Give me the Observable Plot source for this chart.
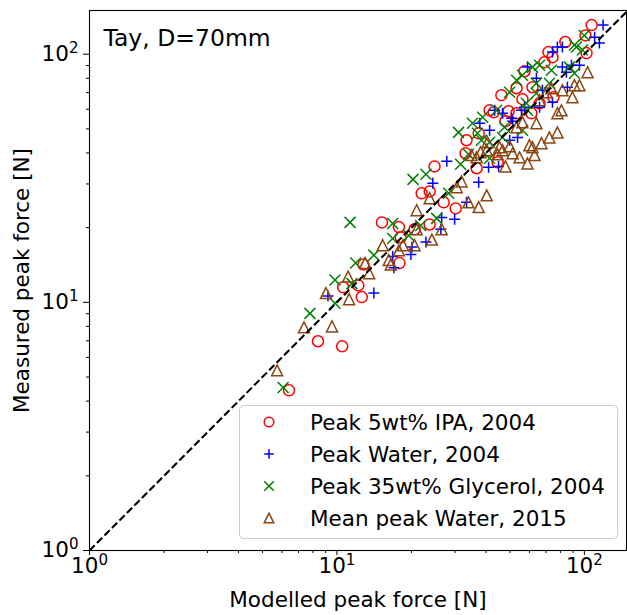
<!DOCTYPE html>
<html>
<head>
<meta charset="utf-8">
<script src="https://cdn.jsdelivr.net/npm/d3@7"></script>
<script src="https://cdn.jsdelivr.net/npm/@observablehq/plot@0.6"></script>
<style>
  body { margin: 0; background: #fff; }
  svg { font-family: "DejaVu Sans", sans-serif; }
</style>
</head>
<body>
<div id="chart"></div>
<script>
// ---- Data ----
const titleText = "Tay, D=70mm";
const xLabel = "Modelled peak force [N]";
const yLabel = "Measured peak force [N]";
const seriesNames = ["Peak 5wt% IPA, 2004", "Peak Water, 2004", "Peak 35wt% Glycerol, 2004", "Mean peak Water, 2015"];
const seriesColors = ["#ff0000", "#0000ff", "#008000", "#8b4513"];

const majorTicks = [1, 10, 100];
const minorTicksX = [2, 3, 4, 5, 6, 7, 8, 9, 20, 30, 40, 50, 60, 70, 80, 90];
const minorTicksY = [2, 3, 4, 5, 6, 7, 8, 9, 20, 30, 40, 50, 60, 70, 80, 90];
const diagonal = [1, 150];

const ipaModelled = [6.40, 8.38, 10.5, 10.6, 12.2, 12.6, 12.8, 15.2, 17.8, 17.9, 18.1, 20.6, 22.0, 23.7, 23.7, 24.8, 27.0, 30.2, 33.4, 33.1, 36.7, 37.4, 44.6, 43.0, 46.2, 48.0, 53.2, 53.2, 56.2, 57.3, 61.7, 69.0, 71.6, 74.3, 75.0, 83.8, 101, 102, 107, 41.4, 65.9, 49.4, 61.1];
const ipaMeasured = [4.42, 6.97, 6.65, 11.5, 11.7, 10.5, 14.2, 21.0, 20.1, 14.4, 18.3, 19.7, 27.5, 28.0, 20.6, 35.3, 25.3, 23.9, 45.0, 39.9, 34.7, 48.0, 36.7, 58.3, 68.4, 53.7, 72.9, 57.8, 65.9, 85.4, 73.6, 92.9, 102, 97.3, 67.1, 112, 119, 101, 131, 59.4, 63.4, 58.9, 57.8];

const waterModelled = [9.20, 14.1, 17.0, 16.8, 19.9, 20.1, 22.9, 26.3, 26.5, 29.9, 33.4, 37.4, 24.4, 27.8, 41.0, 45.0, 37.8, 41.4, 53.7, 49.9, 43.4, 51.3, 46.7, 50.8, 55.7, 57.3, 65.9, 74.3, 67.7, 85.4, 64.0, 58.9, 88.7, 95.5, 84.6, 81.5, 77.8, 74.3, 110, 115, 119, 81.5];
const waterMeasured = [10.6, 10.9, 13.8, 15.3, 15.6, 16.7, 17.5, 19.7, 22.0, 21.6, 25.3, 30.5, 30.2, 37.0, 35.0, 35.3, 52.7, 49.4, 46.2, 45.0, 59.4, 53.7, 57.8, 55.2, 59.4, 61.1, 61.1, 64.0, 71.6, 73.6, 80.0, 88.7, 90.3, 90.3, 84.6, 107, 107, 102, 117, 111, 131, 88.7];

const glycerolModelled = [6.06, 7.78, 9.82, 9.82, 11.5, 11.3, 11.9, 14.1, 16.8, 16.8, 19.5, 21.8, 20.3, 22.9, 25.3, 28.3, 31.6, 34.0, 31.0, 37.0, 35.3, 38.8, 38.4, 41.4, 44.2, 47.6, 46.7, 41.4, 53.2, 56.2, 61.7, 65.9, 73.6, 91.2, 98.2, 100, 58.3, 64.0, 56.2, 49.9, 58.9, 72.2, 87.0, 91.2, 92.9, 64.0];
const glycerolMeasured = [4.54, 9.03, 9.91, 12.3, 11.9, 21.0, 14.4, 15.5, 20.8, 18.1, 18.6, 20.4, 31.3, 32.8, 21.8, 27.5, 36.0, 39.5, 48.4, 48.0, 52.7, 55.7, 45.0, 38.1, 59.4, 50.8, 46.2, 44.2, 78.5, 82.3, 88.7, 90.3, 86.1, 109, 104, 119, 63.4, 69.6, 49.4, 70.3, 59.4, 76.4, 88.7, 83.8, 107, 76.4];

const water2015Modelled = [5.73, 7.36, 9.55, 9.03, 11.2, 11.1, 13.5, 13.0, 15.3, 16.2, 16.5, 17.8, 18.5, 20.6, 24.2, 26.5, 21.0, 21.0, 23.7, 30.5, 31.9, 34.0, 37.4, 40.3, 48.0, 36.7, 35.0, 38.1, 40.6, 40.3, 45.4, 44.6, 49.9, 51.3, 54.7, 60.0, 61.7, 58.9, 67.1, 72.2, 77.8, 80.8, 77.8, 89.5, 91.2, 95.5, 103, 64.0, 56.2, 53.2, 70.3, 73.6, 81.5, 65.9, 46.7, 62.9];
const water2015Measured = [5.32, 7.93, 8.00, 10.9, 10.3, 12.7, 13.1, 14.4, 17.0, 14.8, 14.2, 16.2, 17.0, 17.0, 17.9, 19.7, 19.7, 23.5, 26.3, 29.1, 30.7, 25.3, 24.2, 27.0, 35.3, 38.4, 39.2, 40.3, 44.2, 41.0, 42.2, 39.5, 42.6, 39.9, 38.4, 43.0, 42.2, 36.3, 43.8, 46.2, 48.4, 59.4, 57.8, 67.1, 75.0, 75.0, 84.6, 52.7, 53.2, 50.8, 70.3, 72.9, 71.6, 65.3, 41.0, 39.2];

// ---- Helpers ----
const zipPts = (xs, ys) => xs.map((x, i) => ({x, y: ys[i]}));
const ipa = zipPts(ipaModelled, ipaMeasured);
const water = zipPts(waterModelled, waterMeasured);
const glycerol = zipPts(glycerolModelled, glycerolMeasured);
const water2015 = zipPts(water2015Modelled, water2015Measured);

// matplotlib-like marker shapes (size = pi r^2)
const mplPlus = {draw(ctx, size) { const r = Math.sqrt(size / Math.PI); ctx.moveTo(-r, 0); ctx.lineTo(r, 0); ctx.moveTo(0, -r); ctx.lineTo(0, r); }};
const mplTimes = {draw(ctx, size) { const r = Math.sqrt(size / Math.PI); ctx.moveTo(-r, -r); ctx.lineTo(r, r); ctx.moveTo(-r, r); ctx.lineTo(r, -r); }};
const mplTri = {draw(ctx, size) { const r = Math.sqrt(size / Math.PI); ctx.moveTo(0, -r); ctx.lineTo(-r, r); ctx.lineTo(r, r); ctx.closePath(); }};
const mplCircle = {draw(ctx, size) { const r = Math.sqrt(size / Math.PI); ctx.moveTo(r, 0); ctx.arc(0, 0, r, 0, 2 * Math.PI); }};
const seriesSymbols = [mplCircle, mplPlus, mplTimes, mplTri];
const markerR = 5.5;
const markerSW = 1.5;
const FS = 21.5;      // axis labels, ticks, legend
const FS_TITLE = 23.5;

const fmt = d => "10^" + Math.round(Math.log10(d));

const chart = Plot.plot({
  width: 627,
  height: 615,
  marginLeft: 89,
  marginRight: 1,
  marginTop: 10,
  marginBottom: 65,
  style: {fontFamily: "DejaVu Sans, sans-serif", fontSize: FS + "px", color: "black", background: "white", overflow: "visible"},
  x: {type: "log", domain: [1, 148]},
  y: {type: "log", domain: [1, 150]},
  marks: [
    Plot.dot(ipa, {x: "x", y: "y", r: markerR, symbol: seriesSymbols[0], stroke: seriesColors[0], strokeWidth: markerSW, fill: "none"}),
    Plot.dot(water, {x: "x", y: "y", r: markerR, symbol: seriesSymbols[1], stroke: seriesColors[1], strokeWidth: markerSW, fill: "none"}),
    Plot.dot(glycerol, {x: "x", y: "y", r: markerR, symbol: seriesSymbols[2], stroke: seriesColors[2], strokeWidth: markerSW, fill: "none"}),
    Plot.dot(water2015, {x: "x", y: "y", r: markerR, symbol: seriesSymbols[3], stroke: seriesColors[3], strokeWidth: markerSW, fill: "none"}),
    Plot.line(diagonal, {x: d => d, y: d => d, stroke: "black", strokeWidth: 2.1, strokeDasharray: "7.4,3.2", strokeLinecap: "butt", clip: true}),
    Plot.axisX(majorTicks, {tickSize: 5, tickPadding: 2, tickFormat: fmt, fontSize: FS, label: null}),
    Plot.axisX(minorTicksX, {tickSize: 3, tickFormat: () => "", label: null}),
    Plot.axisY(majorTicks, {tickSize: 6, tickPadding: 5, tickFormat: fmt, fontSize: FS, label: null}),
    Plot.axisY(minorTicksY, {tickSize: 3, tickFormat: () => "", label: null}),
    Plot.frame({stroke: "black", strokeWidth: 1.1}),
    Plot.text([titleText], {frameAnchor: "top-left", dx: 14, dy: 28, lineAnchor: "middle", textAnchor: "start", fontSize: FS_TITLE}),
    Plot.text([xLabel], {frameAnchor: "bottom", dy: 50, lineAnchor: "middle", textAnchor: "middle", fontSize: FS}),
    Plot.text([yLabel], {frameAnchor: "left", dx: -67, rotate: -90, lineAnchor: "middle", textAnchor: "middle", fontSize: FS})
  ]
});

// superscript exponents on tick labels
const NS = "http://www.w3.org/2000/svg";
chart.querySelectorAll("text").forEach(t => {
  const m = t.textContent.match(/^10\^(-?\d+)$/);
  if (m) {
    t.textContent = "10";
    const ts = document.createElementNS(NS, "tspan");
    ts.setAttribute("dy", "-0.55em");
    ts.setAttribute("font-size", "0.7em");
    ts.textContent = m[1];
    t.appendChild(ts);
  }
});

// legend (drawn inside the plot frame, like matplotlib's legend box)
const svg = d3.select(chart);
const lg = svg.append("g").attr("font-family", "DejaVu Sans, sans-serif").attr("font-size", FS).attr("text-anchor", "start");
lg.append("rect")
  .attr("x", 239.5).attr("y", 405.5).attr("width", 378).attr("height", 133).attr("rx", 4)
  .attr("fill", "white").attr("fill-opacity", 0.8).attr("stroke", "#cccccc").attr("stroke-width", 1);
seriesNames.forEach((name, i) => {
  const cy = 422 + i * 32;
  lg.append("path")
    .attr("transform", `translate(269,${cy})`)
    .attr("d", d3.symbol(seriesSymbols[i], Math.PI * 4.8 * 4.8)())
    .attr("fill", "none").attr("stroke", seriesColors[i]).attr("stroke-width", markerSW);
  lg.append("text").attr("x", 310).attr("y", cy).attr("dy", "0.35em").attr("text-anchor", "start").attr("fill", "black").text(name);
});

document.getElementById("chart").appendChild(chart);
</script>
</body>
</html>
